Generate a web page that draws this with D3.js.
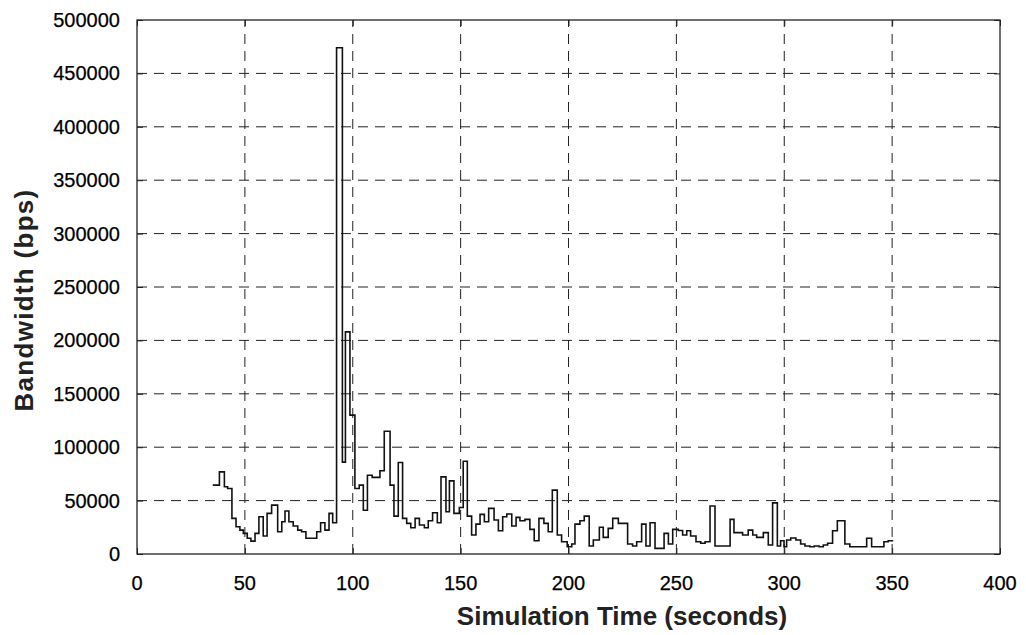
<!DOCTYPE html>
<html>
<head>
<meta charset="utf-8">
<script src="https://cdn.jsdelivr.net/npm/d3@7"></script>
<style>
    body { margin: 0; background: #fff; }
    svg { display: block; }
    .tick-label { font-family: "Liberation Sans", Arial, sans-serif; font-size: 20px; fill: #000; stroke: #000; stroke-width: 0.25px; }
    .axis-title { font-family: "Liberation Sans", Arial, sans-serif; font-size: 26px; font-weight: bold; fill: #222; }
</style>
</head>
<body>
<div id="chart"></div>
<script>
//Tick values for both axes
var xTicks = [0, 50, 100, 150, 200, 250, 300, 350, 400];
var yTicks = [0, 50000, 100000, 150000, 200000, 250000, 300000, 350000, 400000, 450000, 500000];

//Start time of each step (seconds)
var stepStart = [35.1, 38.2, 40.5, 42.0, 44.0, 45.9, 47.7, 49.3, 51.1, 52.8,
    54.7, 56.5, 58.5, 60.3, 62.4, 65.2, 67.1, 68.6, 70.4, 72.4,
    74.5, 76.3, 78.3, 83.3, 85.1, 87.1, 89.0, 90.7, 92.5, 95.2,
    96.6, 98.7, 101.0, 103.0, 104.9, 106.8, 109.0, 112.6, 114.6, 117.3,
    119.1, 121.1, 123.1, 125.0, 126.9, 128.9, 130.9, 133.2, 135.0, 137.0,
    139.2, 140.9, 143.2, 144.8, 146.9, 149.4, 151.2, 153.1, 155.1, 157.1,
    159.0, 161.0, 163.0, 165.5, 167.5, 169.5, 171.4, 173.7, 175.7, 177.5,
    179.8, 182.1, 184.1, 186.3, 188.6, 190.6, 192.5, 194.8, 196.8, 199.4,
    201.5, 203.0, 205.3, 207.3, 209.6, 211.5, 214.3, 216.1, 218.4, 220.5,
    223.1, 227.4, 229.7, 231.6, 233.9, 235.9, 237.8, 240.1, 244.3, 246.3,
    248.3, 250.9, 252.9, 254.8, 256.6, 259.1, 261.3, 263.3, 265.6, 267.9,
    274.9, 276.7, 280.7, 283.3, 285.4, 287.2, 290.3, 292.6, 294.6, 296.8,
    298.3, 299.9, 301.1, 303.0, 305.4, 307.6, 309.6, 311.9, 313.9, 316.2,
    318.1, 320.1, 322.4, 324.6, 328.1, 330.4, 338.2, 340.5, 346.2, 348.2];

//Bandwidth during each step (bps)
var bandwidth = [64500, 76900, 62900, 61400, 33400, 25500, 22400, 19300, 14700, 12100,
    19300, 34900, 16800, 38000, 45800, 20800, 30200, 40200, 30200, 26200,
    22400, 20800, 14700, 20800, 29300, 22400, 38000, 29300, 474000, 86000,
    208000, 130000, 61400, 64500, 41000, 73800, 71700, 77900, 115000, 64500,
    35500, 85700, 33400, 28700, 24600, 33400, 27100, 24600, 31100, 38600,
    29300, 72200, 39500, 68500, 38000, 43600, 86900, 35500, 17800, 28000,
    37100, 30200, 42700, 31800, 21800, 34900, 37400, 26200, 34300, 31100,
    32400, 23100, 12400, 33400, 28700, 20800, 59800, 17800, 11500, 6800,
    9300, 28000, 31100, 35500, 7500, 13100, 25000, 15600, 24000, 33400,
    28700, 9300, 7500, 11500, 28000, 7500, 29300, 5300, 19300, 9300,
    23100, 22000, 17800, 21800, 16800, 11500, 10000, 11500, 44900, 7500,
    32400, 20000, 17800, 22400, 17800, 15600, 20000, 8400, 47900, 7500,
    12400, 6800, 13100, 15000, 13100, 9300, 7500, 6800, 7500, 6800,
    8400, 10000, 21800, 31100, 9300, 6800, 14700, 6800, 11500, 12400];

//End of the last step
var endTime = 350.5;

function drawChart(){
    var width = 1026, height = 635;
    var margin = {top: 20, right: 26, bottom: 81, left: 137};

    var svg = d3.select("#chart").append("svg")
        .attr("width", width)
        .attr("height", height);

    var x = d3.scaleLinear().domain([0, 400]).range([margin.left, width - margin.right]);
    var y = d3.scaleLinear().domain([0, 500000]).range([height - margin.bottom, margin.top]);

    //dashed grid lines
    svg.append("g").selectAll("line.vgrid")
        .data(xTicks.slice(1, -1))
        .enter().append("line")
        .attr("x1", function(d){ return x(d); })
        .attr("x2", function(d){ return x(d); })
        .attr("y1", y(0))
        .attr("y2", y(500000))
        .attr("stroke", "#222")
        .attr("stroke-width", 1)
        .attr("stroke-dasharray", "10,7");

    svg.append("g").selectAll("line.hgrid")
        .data(yTicks.slice(1, -1))
        .enter().append("line")
        .attr("x1", x(0))
        .attr("x2", x(400))
        .attr("y1", function(d){ return y(d); })
        .attr("y2", function(d){ return y(d); })
        .attr("stroke", "#222")
        .attr("stroke-width", 1)
        .attr("stroke-dasharray", "10,7");

    //axes with inward ticks, labels drawn separately
    var tickLen = 6;
    svg.append("g")
        .attr("transform", "translate(0," + y(0) + ")")
        .call(d3.axisTop(x).tickValues(xTicks).tickSize(tickLen).tickFormat(""));
    svg.append("g")
        .attr("transform", "translate(0," + y(500000) + ")")
        .call(d3.axisBottom(x).tickValues(xTicks).tickSize(tickLen).tickFormat(""));
    svg.append("g")
        .attr("transform", "translate(" + x(0) + ",0)")
        .call(d3.axisRight(y).tickValues(yTicks).tickSize(tickLen).tickFormat(""));
    svg.append("g")
        .attr("transform", "translate(" + x(400) + ",0)")
        .call(d3.axisLeft(y).tickValues(yTicks).tickSize(tickLen).tickFormat(""));
    svg.selectAll(".domain").remove();
    svg.selectAll(".tick line").attr("stroke", "#222");

    //plot box
    svg.append("rect")
        .attr("x", x(0))
        .attr("y", y(500000))
        .attr("width", x(400) - x(0))
        .attr("height", y(0) - y(500000))
        .attr("fill", "none")
        .attr("stroke", "#222")
        .attr("stroke-width", 1.3);

    //tick labels
    svg.append("g").selectAll("text")
        .data(xTicks)
        .enter().append("text")
        .attr("class", "tick-label")
        .attr("x", function(d){ return x(d); })
        .attr("y", y(0) + 36)
        .attr("text-anchor", "middle")
        .text(function(d){ return d; });

    svg.append("g").selectAll("text")
        .data(yTicks)
        .enter().append("text")
        .attr("class", "tick-label")
        .attr("x", x(0) - 17)
        .attr("y", function(d){ return y(d) + 7; })
        .attr("text-anchor", "end")
        .text(function(d){ return d; });

    //axis titles
    svg.append("text")
        .attr("class", "axis-title")
        .attr("x", 622)
        .attr("y", 625)
        .attr("text-anchor", "middle")
        .text("Simulation Time (seconds)");

    svg.append("text")
        .attr("class", "axis-title")
        .attr("transform", "translate(33,300) rotate(-90)")
        .attr("text-anchor", "middle")
        .style("letter-spacing", "1.3px")
        .text("Bandwidth (bps)");

    //step line data
    var points = stepStart.map(function(t, i){ return [t, bandwidth[i]]; });
    points.push([endTime, bandwidth[bandwidth.length - 1]]);

    var line = d3.line()
        .x(function(d){ return x(d[0]); })
        .y(function(d){ return y(d[1]); })
        .curve(d3.curveStepAfter);

    svg.append("path")
        .datum(points)
        .attr("d", line)
        .attr("fill", "none")
        .attr("stroke", "#111")
        .attr("stroke-width", 1.6);
};

drawChart();
</script>
</body>
</html>
